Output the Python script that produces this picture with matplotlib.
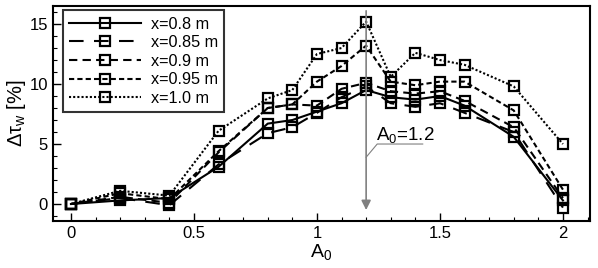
import matplotlib
matplotlib.use('Agg')
from matplotlib import pyplot as plt
from matplotlib.ticker import MultipleLocator

plt.rcParams['font.family'] = ['Liberation Sans', 'DejaVu Sans']
plt.rcParams['mathtext.fontset'] = 'custom'
plt.rcParams['mathtext.rm'] = 'Liberation Sans'
plt.rcParams['mathtext.it'] = 'Liberation Sans'

# amplitude A0
a0 = [0, 0.2, 0.4, 0.6, 0.8, 0.9, 1.0, 1.1, 1.2, 1.3, 1.4, 1.5, 1.6, 1.8, 2.0]

# wall shear stress change [%] at each station
x080 = [0, 0.3, 0.5, 3.1, 6.7, 7.0, 7.7, 8.4, 9.5, 8.9, 8.7, 9.0, 8.2, 5.6, 0.3]
x085 = [0, 0.5, -0.1, 3.3, 5.9, 6.4, 7.6, 8.9, 9.8, 8.4, 8.1, 8.4, 7.6, 6.0, -0.3]
x090 = [0, 0.6, 0.1, 4.3, 8.0, 8.3, 8.2, 9.6, 10.1, 9.4, 9.2, 9.4, 8.6, 6.4, 0.5]
x095 = [0, 0.9, 0.4, 4.4, 8.0, 8.3, 10.2, 11.5, 13.2, 10.2, 9.9, 10.2, 10.2, 7.8, 1.2]
x100 = [0, 1.1, 0.7, 6.1, 8.8, 9.5, 12.5, 13.0, 15.2, 10.6, 12.6, 12.0, 11.6, 9.8, 5.0]

labels = ['x=0.8 m', 'x=0.85 m', 'x=0.9 m', 'x=0.95 m', 'x=1.0 m']
styles = ['-', (0, (7, 5)), (0, (4, 2.5)), (0, (2.5, 1.5)), (0, (1, 1))]

fig = plt.figure(figsize=(5.98, 2.68), dpi=100)
ax = fig.add_axes([0.0886, 0.1765, 0.898, 0.801])

for ys, lab, ls in zip([x080, x085, x090, x095, x100], labels, styles):
    ax.plot(a0, ys, color='black', linestyle=ls, linewidth=1.5,
            marker='s', markersize=6.5, markerfacecolor='none',
            markeredgewidth=1.6, markeredgecolor='black', label=lab)

# marker for A0=1.2
ax.annotate('', xy=(1.2, -0.5), xytext=(1.2, 16.1),
            arrowprops=dict(arrowstyle='-|>', color='#808080', lw=1.2,
                            mutation_scale=14, shrinkA=0, shrinkB=0))
ax.plot([1.2, 1.245, 1.43], [3.9, 5.0, 5.0], color='#808080', lw=0.8)
ax.text(1.24, 5.3, '$\\mathrm{A_0}$=1.2', fontsize=13.5)

ax.set_xlim(-0.073, 2.11)
ax.set_ylim(-1.39, 16.5)
ax.xaxis.set_major_locator(MultipleLocator(0.5))
ax.xaxis.set_minor_locator(MultipleLocator(0.1))
ax.yaxis.set_major_locator(MultipleLocator(5))
ax.yaxis.set_minor_locator(MultipleLocator(1))
ax.set_xticks([0, 0.5, 1, 1.5, 2])
ax.set_xticklabels(['0', '0.5', '1', '1.5', '2'])
ax.tick_params(which='both', direction='in', labelsize=12)
ax.tick_params(which='major', length=6, width=1)
ax.tick_params(which='minor', length=3, width=0.8)
for s in ax.spines.values():
    s.set_linewidth(1.5)

ax.set_xlabel('$\\mathrm{A_0}$', fontsize=14, labelpad=1)
ax.set_ylabel('$\\Delta\\tau_\\mathrm{w}$ [%]', fontsize=14.5, labelpad=1)

leg = ax.legend(loc='upper left', bbox_to_anchor=(0.0186, 0.981),
                fontsize=11.7, frameon=True, fancybox=False,
                edgecolor='black', handlelength=4.4, borderpad=0.4,
                labelspacing=0.22, handletextpad=0.6, borderaxespad=0)
leg.get_frame().set_linewidth(1.5)

fig.savefig('out.png', dpi=100)
